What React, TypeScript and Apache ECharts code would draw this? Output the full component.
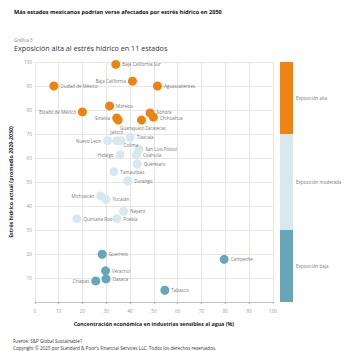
import React, { useEffect, useRef } from "react";
import * as echarts from "echarts";

const FONT = "'Open Sans', 'Noto Sans', sans-serif";

// [name, x (concentración %), y (estrés hídrico), label position]
const altaPoints: [string, number, number, string][] = [
  ["Baja California Sur", 34, 99, "right"],
  ["Baja California", 41, 92, "left"],
  ["Aguascalientes", 51.5, 90, "right"],
  ["Ciudad de México", 8, 90, "right"],
  ["Morelos", 31.4, 81.7, "right"],
  ["Estado de México", 20, 79.2, "left"],
  ["Sinaloa", 34.4, 76.7, "left"],
  ["Guanajuato", 35, 75.8, "bottomR"],
  ["Zacatecas", 44.8, 75.8, "bottomR"],
  ["Sonora", 48.4, 78.8, "rightUp"],
  ["Chihuahua", 49.8, 77, "rightDown"],
];

const moderadaPoints: [string, number, number, string][] = [
  ["Nuevo León", 30.6, 67.2, "left"],
  ["Jalisco", 34.4, 67.2, "top"],
  ["Colima", 36.2, 67.2, "colima"],
  ["Tlaxcala", 40.1, 68.6, "right"],
  ["San Luis Potosí", 43.7, 63.6, "right"],
  ["Coahuila", 42.7, 61.3, "right"],
  ["Hidalgo", 35.8, 61.3, "left"],
  ["Querétaro", 43, 57.5, "right"],
  ["Tamaulipas", 33.2, 54.3, "right"],
  ["Durango", 39, 50.5, "right"],
  ["Michoacán", 27.7, 44.2, "left"],
  ["Yucatán", 29.9, 42.8, "right"],
  ["Nayarit", 37.3, 37.8, "right"],
  ["Quintana Roo", 17.7, 34.7, "right"],
  ["Puebla", 34.4, 34.7, "right"],
];

const bajaPoints: [string, number, number, string][] = [
  ["Guerrero", 28.3, 19.9, "right"],
  ["Veracruz", 29.7, 13, "right"],
  ["Oaxaca", 29.9, 9.6, "right"],
  ["Chiapas", 25.6, 8.8, "left"],
  ["Tabasco", 54.6, 4.9, "right"],
  ["Campeche", 79.5, 17.8, "right"],
];

const bandNames = ["Exposición baja", "Exposición moderada", "Exposición alta"];
const bandValues = [30, 40, 30];

const ORANGE = "#EE8310";
const LIGHT = "#D9E8EF";
const TEAL = "#66A7B7";

function toData(points: [string, number, number, string][]) {
  return points.map(([name, x, y, pos]) => {
    let label: any = { position: pos };
    if (pos === "bottomR") {
      label = { position: "bottom", distance: 0, offset: [14, 0.5] };
    } else if (pos === "colima") {
      label = { position: "bottom", distance: 0, offset: [10, -2.5] };
    } else if (pos === "rightUp") {
      label = { position: "right", offset: [0, -1] };
    } else if (pos === "rightDown") {
      label = { position: "right", offset: [0, 1] };
    }
    return { name, value: [x, y], label };
  });
}

export default function App() {
  const ref = useRef<HTMLDivElement>(null);
  useEffect(() => {
    if (!ref.current) return;
    const chart = echarts.init(ref.current, null, { renderer: "svg" });
    const labelStyle = {
      show: true,
      formatter: "{b}",
      fontSize: 4.5,
      color: "#777",
      fontFamily: FONT,
      distance: 2,
    };
    const scatter = (name: string, pts: any, color: string) => ({
      type: "scatter",
      name,
      xAxisIndex: 0,
      yAxisIndex: 0,
      symbolSize: 9,
      itemStyle: { color, opacity: 1 },
      label: labelStyle,
      data: toData(pts),
      z: 3,
    });
    chart.setOption({
      animation: false,
      backgroundColor: "#fff",
      textStyle: { fontFamily: FONT },
      title: [
        {
          text: "Más estados mexicanos podrían verse afectados por estrés hídrico en 2050",
          left: 9,
          top: 4,
          textStyle: { fontSize: 5.6, fontWeight: "bold", color: "#111", fontFamily: FONT },
        },
        {
          text: "Gráfica 3",
          left: 9,
          top: 32,
          textStyle: { fontSize: 4.5, fontWeight: "normal", color: "#888", fontFamily: FONT },
        },
        {
          text: "Exposición alta al estrés hídrico en 11 estados",
          left: 9,
          top: 39,
          textStyle: { fontSize: 7.2, fontWeight: "normal", color: "#333", fontFamily: FONT },
        },
        {
          text: "Fuente: S&P Global Sustainable1",
          left: 8,
          top: 333,
          textStyle: { fontSize: 4.6, fontWeight: "normal", color: "#333", fontFamily: FONT },
        },
        {
          text: "Copyright © 2023 por Standard & Poor's Financial Services LLC. Todos los derechos reservados.",
          left: 8,
          top: 340,
          textStyle: { fontSize: 4.6, fontWeight: "normal", color: "#333", fontFamily: FONT },
        },
      ],
      grid: [
        { left: 32, right: 77, top: 62, bottom: 49 },
        { left: 280, width: 13, top: 62, bottom: 49 },
      ],
      xAxis: [
        {
          type: "value",
          gridIndex: 0,
          min: 0,
          max: 100,
          interval: 10,
          name: "Concentración económica en industrias sensibles al agua (%)",
          nameLocation: "middle",
          nameGap: 19,
          nameTextStyle: { fontSize: 5.3, fontWeight: "bold", color: "#222", fontFamily: FONT },
          axisLine: { show: true, lineStyle: { color: "#bdb9b0", width: 0.8 } },
          axisTick: { show: true, length: 2, lineStyle: { color: "#bdb9b0" } },
          axisLabel: { fontSize: 4.6, color: "#999", margin: 6, fontFamily: FONT },
          splitLine: { show: true, lineStyle: { color: "#e3e0da", width: 0.8 } },
        },
        {
          type: "category",
          gridIndex: 1,
          data: ["band"],
          show: false,
        },
      ],
      yAxis: [
        {
          type: "value",
          gridIndex: 0,
          min: 0,
          max: 100,
          interval: 10,
          name: "Estrés hídrico actual (promedio 2020-2030)",
          nameLocation: "middle",
          nameGap: 17,
          nameTextStyle: { fontSize: 5.3, fontWeight: "bold", color: "#222", fontFamily: FONT },
          axisLine: { show: false },
          axisTick: { show: false },
          axisLabel: {
            fontSize: 4.6,
            color: "#999",
            margin: 3,
            fontFamily: FONT,
            formatter: (v: number) => (v === 0 ? "" : String(v)),
          },
          splitLine: { show: true, lineStyle: { color: "#e3e0da", width: 0.8 } },
        },
        {
          type: "value",
          gridIndex: 1,
          min: 0,
          max: 100,
          show: false,
        },
      ],
      series: [
        scatter("Exposición alta", altaPoints, ORANGE),
        scatter("Exposición moderada", moderadaPoints, LIGHT),
        scatter("Exposición baja", bajaPoints, TEAL),
        ...bandNames.map((n, i) => ({
          type: "bar",
          name: n,
          xAxisIndex: 1,
          yAxisIndex: 1,
          stack: "band",
          barWidth: "100%",
          itemStyle: { color: [TEAL, LIGHT, ORANGE][i] },
          label: {
            show: true,
            position: "right",
            distance: 3,
            formatter: n,
            fontSize: 4.5,
            color: "#777",
            fontFamily: FONT,
          },
          data: [bandValues[i]],
        })),
      ],
    });
    return () => chart.dispose();
  }, []);
  return (
    <div
      ref={ref}
      style={{ position: "fixed", left: 0, top: 0, width: 350, height: 351 }}
    />
  );
}
